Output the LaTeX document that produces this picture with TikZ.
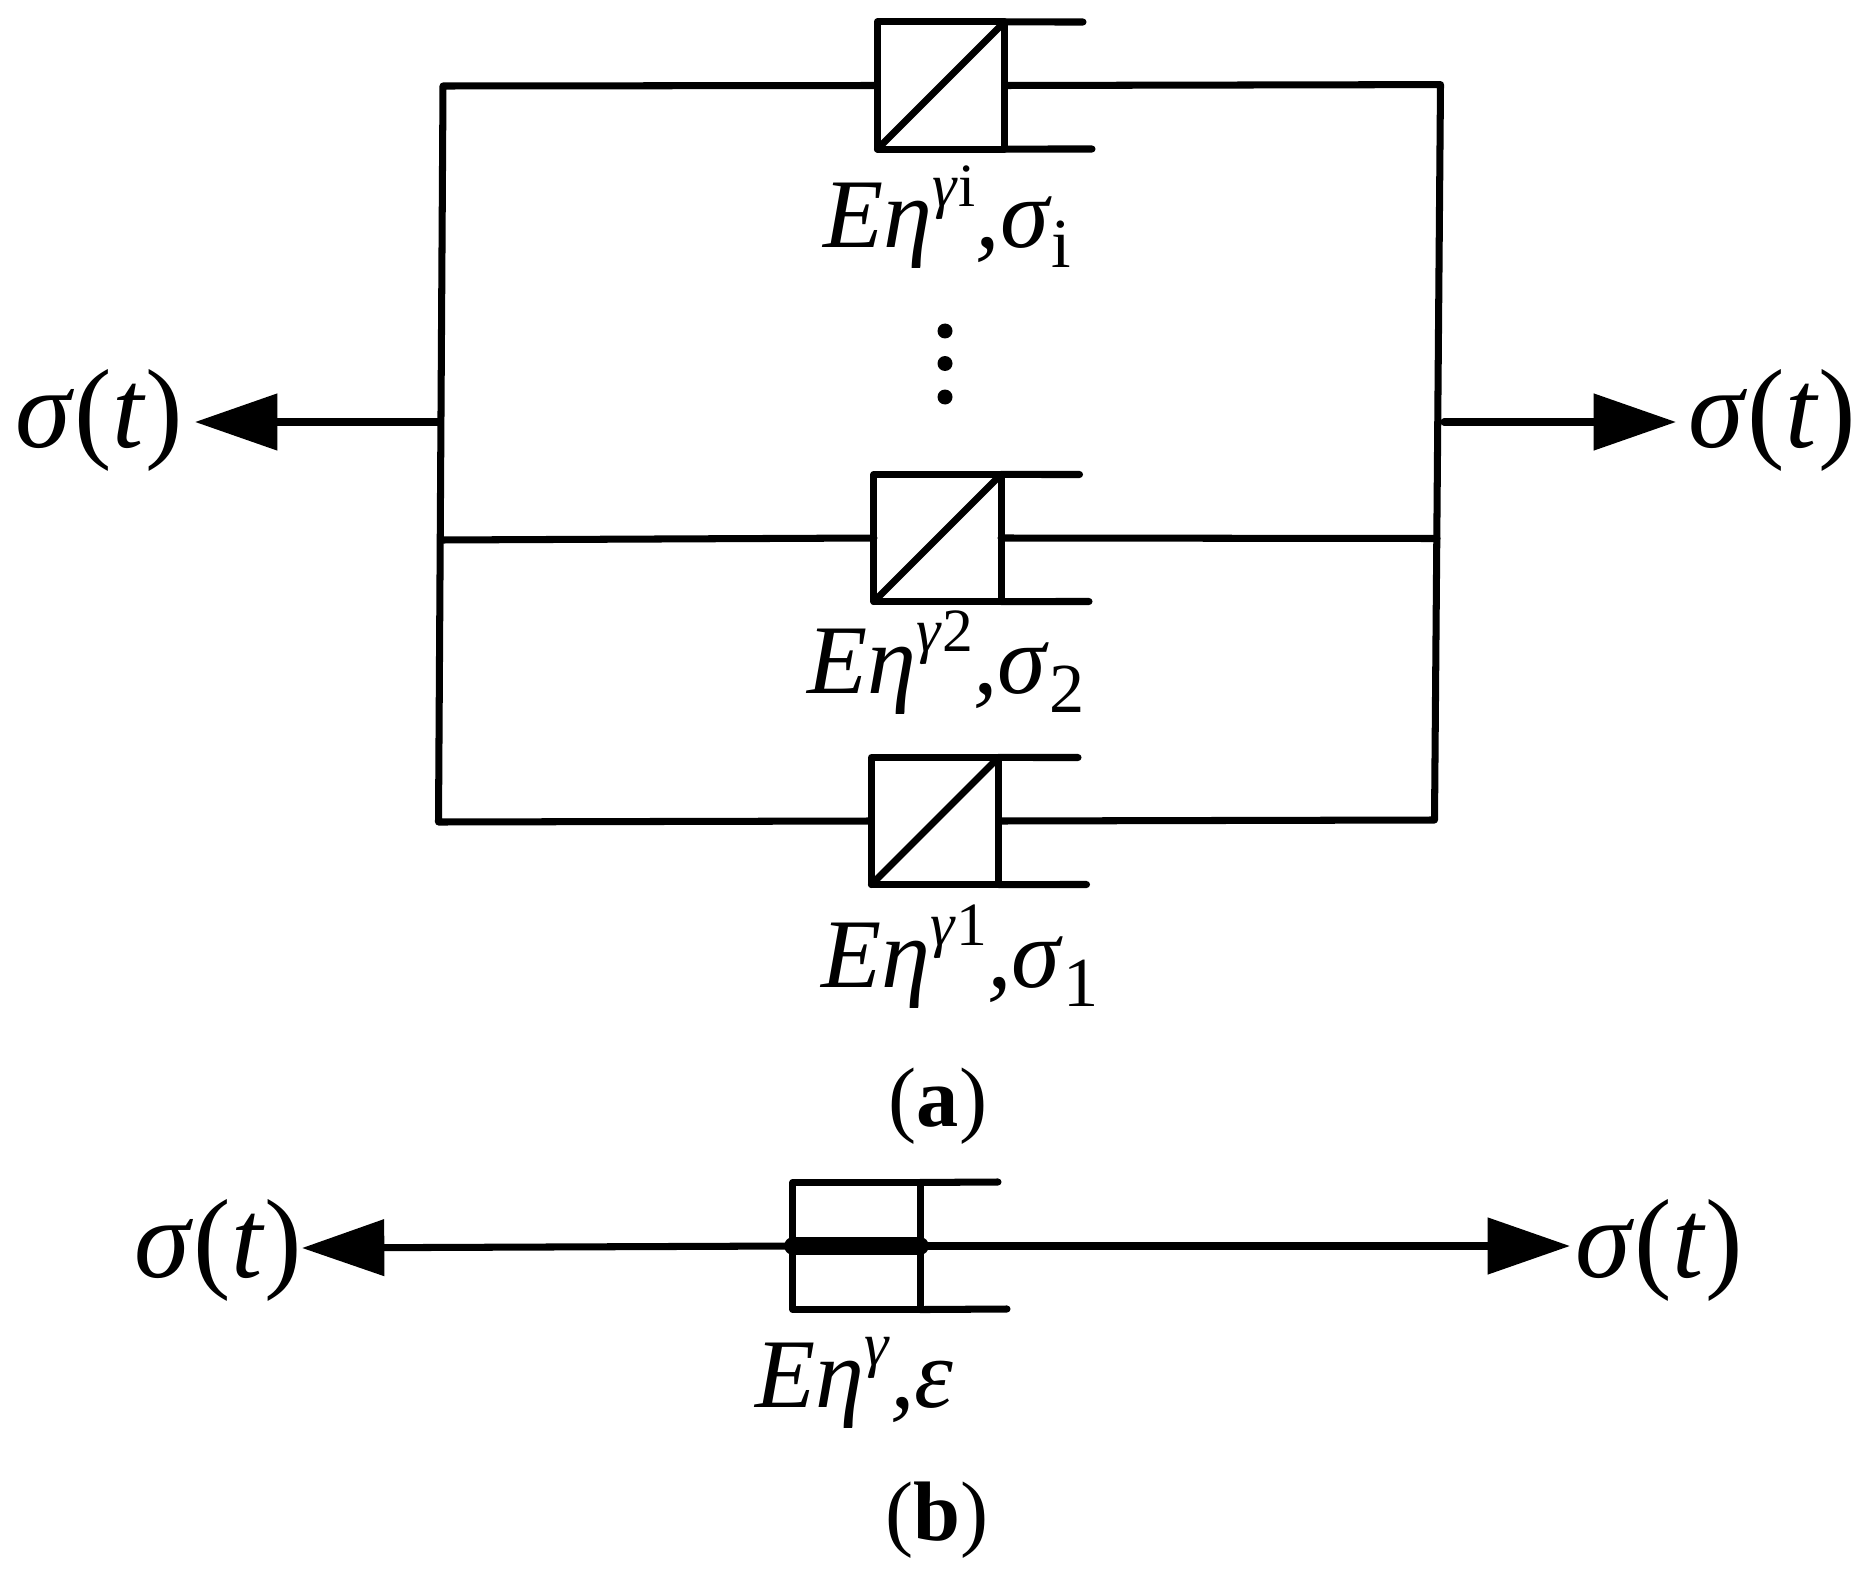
\documentclass[tikz,border=0pt]{standalone}
\usepackage{fontspec}
\setmainfont{Liberation Serif}
\usetikzlibrary{arrows.meta}
\newcommand{\Hi}[1]{\raisebox{0.42em}{\fontsize{17.5}{17.5}\selectfont #1}}
\newcommand{\Lo}[1]{\raisebox{-0.2em}{\fontsize{20}{20}\selectfont #1}}
\newcommand{\Stress}{\textit{σ}(\textit{t})}

\begin{document}
\begin{tikzpicture}[
                    x=0.01cm, y=-0.01cm,
                    >={Triangle[length=2.35mm*3.5, width=2.35mm*2.35]},
                    wire/.style={line width=2pt, line cap=round, line join=round},
                    potbox/.style={draw, wire, inner sep=0, outer sep=0, minimum width=1.27cm, minimum height=1.27cm},
                    param/.style={inner sep=0, anchor=base west, font=\fontsize{28}{28}\selectfont},
                    force/.style={inner sep=0, anchor=base west, font=\fontsize{32}{32}\selectfont},
                    caption/.style={inner sep=0, anchor=base, font=\fontsize{24}{24}\selectfont}]

                \useasboundingbox (0,0) rectangle (1866,1579);

                \foreach \pot/\x/\y/\tip/\low in {top/941/85.5/1083/1092, mid/937.5/538/1079.5/1089, low/935/821/1078/1086.5} {
                    \node[potbox] (\pot) at (\x,\y) {};
                    \coordinate (\pot T) at (\tip,\y-63.5);
                    \coordinate (\pot B) at (\low,\y+63.5);
                    \draw[wire] (\pot.north east) -- (\pot T);
                    \draw[wire] (\pot.south east) -- (\pot B);
                    \draw[wire] (\pot.south west) -- (\pot.north east);
                }

                \coordinate (tl) at (443,86);
                \coordinate (ml) at (441,540);
                \coordinate (bl) at (438.5,822);
                \coordinate (tr) at (1440.5,84.6);
                \coordinate (mr) at (1437,538.5);
                \coordinate (br) at (1434.5,820);
                \draw[wire] (top.west) -- (tl) -- (bl) -- (low.west);
                \draw[wire] (top.east) -- (tr) -- (br) -- (low.east);
                \draw[wire] (ml) -- (mid.west);
                \draw[wire] (mid.east) -- (mr);

                \foreach \y in {331,363.5,397} \fill (945,\y) circle (7.5);

                \coordinate (leftA) at (440,422);
                \coordinate (tipA) at (195,422);
                \coordinate (rightA) at (1444,422);
                \coordinate (tipB) at (1676,422);
                \draw[wire, ->] (leftA) -- (tipA);
                \draw[wire, ->] (rightA) -- (tipB);

                \node[force] (sA) at (15,447) {\Stress};
                \node[force] (sB) at (1688,447) {\Stress};

                \node[param] (pi) at (823,248) {\textit{Eη}\Hi{\textit{γ}i}\textit{,σ}\Lo{i}};
                \node[param] (p2) at (807,693) {\textit{Eη}\Hi{\textit{γ}2}\textit{,σ}\Lo{2}};
                \node[param] (p1) at (821,987) {\textit{Eη}\Hi{\textit{γ}1}\textit{,σ}\Lo{1}};
                \node[caption] (capA) at (938,1126) {(\textbf{a})};

                \node[potbox] (single) at (856.5,1246) {};
                \coordinate (singleT) at (998,1182);
                \coordinate (singleB) at (1007,1309);
                \draw[wire] (single.north east) -- (singleT);
                \draw[wire] (single.south east) -- (singleB);
                \draw[line width=5pt, line cap=round] (single.west) -- (single.east);

                \coordinate (tipC) at (302,1248);
                \coordinate (tipD) at (1570,1246);
                \draw[wire, ->] (single.west) -- (tipC);
                \draw[wire, ->] (single.east) -- (tipD);

                \node[force] (sC) at (134,1277) {\Stress};
                \node[force] (sD) at (1575,1277) {\Stress};
                \node[param] (pe) at (755,1407) {\textit{Eη}\Hi{\textit{γ}}\textit{,ε}};
                \node[caption] (capB) at (937,1540) {(\textbf{b})};

            \end{tikzpicture}
\end{document}
